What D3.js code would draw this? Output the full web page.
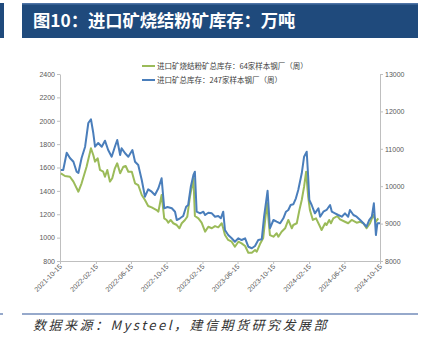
<!DOCTYPE html>
<html><head><meta charset="utf-8">
<script src="https://cdn.jsdelivr.net/npm/d3@7"></script>
<style>
html,body{margin:0;padding:0;background:#fff;}
svg{display:block;}
</style></head>
<body>
<svg id="c" width="428" height="340"></svg>
<script>
const titleText = "图10：进口矿烧结粉矿库存：万吨";
const sourceText = "数据来源：Mysteel，建信期货研究发展部";
const seriesNames = ["进口矿烧结粉矿总库存：64家样本钢厂（周）", "进口矿总库存：247家样本钢厂（周）"];
const xTickLabels = ["2021-10-15","2022-02-15","2022-06-15","2022-10-15","2023-02-15","2023-06-15","2023-10-15","2024-02-15","2024-06-15","2024-10-15"];
const leftTicks = [800,1000,1200,1400,1600,1800,2000,2200,2400];
const rightTicks = [8000,9000,10000,11000,12000,13000];

// green series (left axis)
const sinterDates = ["2021-10-18","2021-11-01","2021-11-18","2021-11-30","2021-12-17","2021-12-28","2022-01-14","2022-01-29","2022-02-06","2022-02-12","2022-02-21","2022-03-01","2022-03-12","2022-03-18","2022-03-26","2022-04-04","2022-04-12","2022-04-21","2022-04-29","2022-05-09","2022-05-20","2022-05-28","2022-06-06","2022-06-18","2022-06-29","2022-07-10","2022-07-22","2022-08-02","2022-08-13","2022-08-25","2022-09-11","2022-09-17","2022-09-28","2022-10-07","2022-10-15","2022-10-21","2022-10-29","2022-11-07","2022-11-19","2022-11-28","2022-12-06","2022-12-17","2022-12-25","2023-01-03","2023-01-15","2023-01-20","2023-02-01","2023-02-12","2023-02-24","2023-03-07","2023-03-19","2023-03-30","2023-04-10","2023-04-22","2023-04-27","2023-05-03","2023-05-14","2023-05-26","2023-06-06","2023-06-18","2023-06-29","2023-07-11","2023-07-22","2023-08-03","2023-08-14","2023-08-20","2023-08-31","2023-09-11","2023-09-24","2023-10-04","2023-10-16","2023-10-27","2023-11-02","2023-11-13","2023-11-25","2023-12-06","2023-12-18","2023-12-23","2024-01-04","2024-01-13","2024-01-21","2024-01-29","2024-02-05","2024-02-12","2024-02-18","2024-02-28","2024-03-10","2024-03-21","2024-03-29","2024-04-10","2024-04-15","2024-04-24","2024-04-30","2024-05-08","2024-05-22","2024-05-31","2024-06-17","2024-06-28","2024-07-10","2024-07-27","2024-08-08","2024-08-19","2024-08-30","2024-09-11","2024-09-22","2024-10-01","2024-10-09"];
const sinterValues = [1550,1527,1521,1479,1393,1465,1607,1764,1707,1650,1679,1579,1564,1521,1579,1479,1508,1593,1636,1550,1607,1613,1564,1564,1465,1450,1365,1322,1271,1259,1236,1222,1365,1165,1151,1128,1151,1123,1108,1080,1123,1151,1179,1350,1508,1185,1165,1128,1051,1093,1080,1099,1088,1123,1080,1022,980,965,922,965,951,928,871,871,894,880,945,997,1296,1022,1008,1037,1008,1051,1080,1151,1080,1108,1123,1236,1322,1436,1564,1350,1236,1151,1165,1108,1065,1123,1108,1151,1123,1165,1185,1157,1136,1123,1151,1128,1136,1123,1080,1123,1194,1136,1165];

// blue series (right axis)
const totalDates = ["2021-10-18","2021-10-26","2021-11-07","2021-11-18","2021-11-30","2021-12-11","2021-12-17","2021-12-28","2022-01-09","2022-01-20","2022-01-29","2022-02-06","2022-02-12","2022-02-23","2022-03-07","2022-03-18","2022-03-29","2022-04-10","2022-04-21","2022-04-29","2022-05-09","2022-05-14","2022-05-26","2022-06-06","2022-06-20","2022-06-29","2022-07-10","2022-07-22","2022-08-02","2022-08-13","2022-08-25","2022-09-05","2022-09-17","2022-09-28","2022-10-07","2022-10-18","2022-11-02","2022-11-13","2022-11-19","2022-11-30","2022-12-11","2022-12-21","2022-12-28","2023-01-06","2023-01-15","2023-01-20","2023-01-26","2023-02-07","2023-02-18","2023-02-24","2023-03-07","2023-03-19","2023-03-30","2023-04-10","2023-04-19","2023-04-27","2023-05-03","2023-05-14","2023-05-26","2023-06-06","2023-06-18","2023-06-29","2023-07-11","2023-07-22","2023-08-03","2023-08-14","2023-08-25","2023-09-06","2023-09-14","2023-09-26","2023-10-04","2023-10-16","2023-10-27","2023-11-08","2023-11-19","2023-11-28","2023-12-06","2023-12-14","2023-12-23","2024-01-01","2024-01-09","2024-01-21","2024-01-29","2024-02-07","2024-02-12","2024-02-16","2024-02-24","2024-03-06","2024-03-18","2024-03-24","2024-04-04","2024-04-15","2024-04-27","2024-05-03","2024-05-14","2024-05-25","2024-06-06","2024-06-17","2024-06-28","2024-07-04","2024-07-16","2024-07-27","2024-08-08","2024-08-19","2024-08-30","2024-09-08","2024-09-17","2024-09-24","2024-10-01","2024-10-06","2024-10-15"];
const totalValues = [10433,10433,10896,10754,10655,10388,10353,10754,11056,11690,11789,11422,11056,11155,11056,11217,10968,10789,11056,11235,10834,11013,10880,10789,10968,10655,10567,10166,9719,9917,9853,9765,9944,10211,9409,9444,9409,9318,9096,9142,9203,9452,9497,9987,10299,10388,9318,9275,9318,9230,9291,9275,9184,9203,9142,9318,8829,8695,8607,8516,8607,8561,8607,8382,8340,8401,8561,8580,9184,9880,8874,9096,9051,9008,9142,9318,9364,9497,9516,9676,9898,10345,10789,10922,10254,9631,9497,9275,9409,9184,9318,9364,9497,9318,9275,9230,9184,9275,9184,9364,9230,9184,9096,9008,8917,9096,9184,9543,8695,9008,9008];

const parse = d3.timeParse("%Y-%m-%d");
const svg = d3.select("#c");
const navy = "#1f4a7c";
const greenC = "#9bbb59", blueC = "#4a7ebb";
const axisC = "#bfbfbf", labelC = "#595959";
const cjk = "'Noto Sans CJK SC', 'Noto Sans', sans-serif";

// title bar
svg.append("rect").attr("x",0).attr("y",3).attr("width",4).attr("height",35).attr("fill",navy);
svg.append("rect").attr("x",22).attr("y",3).attr("width",396).attr("height",35).attr("fill",navy);
svg.append("rect").attr("x",22).attr("y",3).attr("width",396).attr("height",1.5).attr("fill","#4f74a6");
svg.append("text").attr("x",33).attr("y",27).text(titleText)
  .attr("fill","#fff").attr("font-family",cjk).attr("font-weight","bold").attr("font-size",17.3);

// scales
const x = d3.scaleTime().domain([parse(xTickLabels[0]), parse(xTickLabels[xTickLabels.length-1])]).range([60,380]);
const yL = d3.scaleLinear().domain([800,2400]).range([261,74]);
const yR = d3.scaleLinear().domain([8000,13000]).range([261,74]);

function styleAxis(g){
  g.select(".domain").attr("stroke",axisC);
  g.selectAll(".tick line").attr("stroke",axisC);
  g.selectAll(".tick text").attr("fill",labelC).attr("font-size",7).attr("font-family","'Liberation Sans', Arial, sans-serif");
}
const gL = svg.append("g").attr("transform","translate(60,0)")
  .call(d3.axisLeft(yL).tickValues(leftTicks).tickFormat(d3.format("d")).tickSize(3).tickPadding(2).tickSizeOuter(0));
styleAxis(gL);
const gR = svg.append("g").attr("transform","translate(380,0)")
  .call(d3.axisRight(yR).tickValues(rightTicks).tickFormat(d3.format("d")).tickSize(3).tickPadding(2).tickSizeOuter(0));
styleAxis(gR);
const gX = svg.append("g").attr("transform","translate(0,261)")
  .call(d3.axisBottom(x).tickValues(xTickLabels.map(parse)).tickFormat(d3.timeFormat("%Y-%m-%d")).tickSize(3).tickSizeOuter(0));
styleAxis(gX);
gX.selectAll(".tick text").attr("text-anchor","end").attr("dy",0).attr("y",0)
  .attr("transform","translate(2,6) rotate(-45)");

// lines
const lineL = d3.line().x((d,i)=>x(parse(sinterDates[i]))).y(d=>yL(d));
const lineR = d3.line().x((d,i)=>x(parse(totalDates[i]))).y(d=>yR(d));
svg.append("path").attr("d",lineL(sinterValues)).attr("fill","none").attr("stroke",greenC).attr("stroke-width",2).attr("stroke-linejoin","round");
svg.append("path").attr("d",lineR(totalValues)).attr("fill","none").attr("stroke",blueC).attr("stroke-width",2).attr("stroke-linejoin","round");

// legend
const legColors = [greenC, blueC];
seriesNames.forEach((n,i)=>{
  const ly = 66 + i*14;
  svg.append("line").attr("x1",142).attr("x2",155).attr("y1",ly).attr("y2",ly).attr("stroke",legColors[i]).attr("stroke-width",2);
  svg.append("text").attr("x",157).attr("y",ly+2.6).text(n).attr("fill","#404040")
    .attr("font-size",7.5).attr("font-family",cjk);
});

// footer
svg.append("rect").attr("x",0).attr("y",313.5).attr("width",3).attr("height",1).attr("fill","#2f5597");
svg.append("rect").attr("x",22).attr("y",313.5).attr("width",396).attr("height",1).attr("fill","#2f5597");
const ft = svg.append("text").attr("x",33).attr("y",330)
  .attr("fill","#333").attr("font-size",13).attr("font-style","italic").attr("letter-spacing",2.5)
  .attr("font-family","'Noto Sans CJK SC', sans-serif")
  .attr("transform","skewX(0)");
ft.text(sourceText);
</script>
</body></html>
